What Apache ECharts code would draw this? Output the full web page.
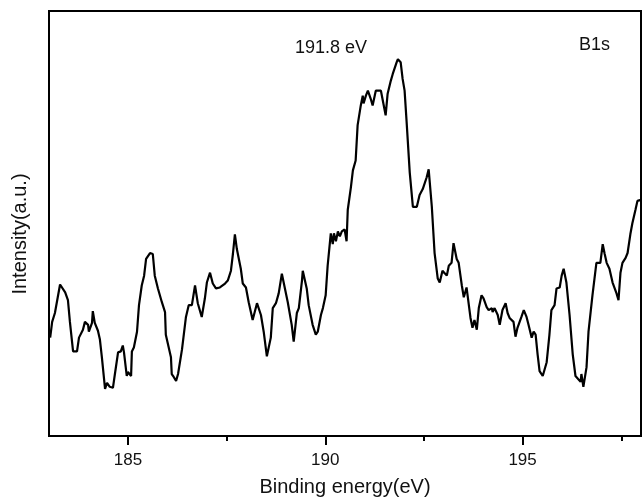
<!DOCTYPE html>
<html>
<head>
<meta charset="utf-8">
<script src="https://cdn.jsdelivr.net/npm/echarts@6/dist/echarts.min.js"></script>
<style>
  html, body { margin: 0; padding: 0; background: #fff; }
  #chart { width: 643px; height: 502px; }
</style>
</head>
<body>
<div id="chart"></div>
<script>
// Binding energy (eV)
var energy = [
  183.03,183.08,183.15,183.28,183.33,183.41,183.48,183.53,183.61,183.71,
  183.76,183.81,183.86,183.91,183.99,184.01,184.09,184.11,184.16,184.24,
  184.29,184.34,184.42,184.47,184.54,184.62,184.67,184.75,184.82,184.87,
  184.90,184.97,185.00,185.08,185.10,185.15,185.23,185.28,185.35,185.41,
  185.46,185.51,185.56,185.63,185.68,185.76,185.86,185.94,185.96,186.01,
  186.09,186.11,186.16,186.22,186.27,186.37,186.47,186.54,186.62,186.70,
  186.77,186.87,186.95,187.00,187.08,187.15,187.23,187.28,187.33,187.46,
  187.53,187.61,187.66,187.71,187.76,187.86,187.91,187.99,188.06,188.16,
  188.27,188.37,188.44,188.52,188.62,188.67,188.75,188.82,188.90,188.95,
  189.05,189.15,189.20,189.28,189.33,189.41,189.43,189.53,189.58,189.63,
  189.68,189.76,189.81,189.89,189.94,190.01,190.06,190.14,190.19,190.22,
  190.27,190.32,190.37,190.42,190.49,190.54,190.57,190.65,190.70,190.77,
  190.82,190.90,190.95,190.97,191.03,191.08,191.15,191.20,191.28,191.33,
  191.41,191.46,191.53,191.58,191.66,191.71,191.76,191.81,191.84,191.91,
  191.96,192.01,192.06,192.14,192.22,192.27,192.32,192.39,192.47,192.57,
  192.62,192.70,192.77,192.85,192.90,192.97,193.08,193.13,193.20,193.25,
  193.33,193.38,193.46,193.51,193.58,193.61,193.68,193.73,193.78,193.84,
  193.89,193.96,194.01,194.09,194.14,194.22,194.24,194.29,194.37,194.42,
  194.49,194.57,194.62,194.67,194.72,194.77,194.82,194.87,194.97,195.03,
  195.10,195.15,195.23,195.28,195.33,195.38,195.43,195.51,195.56,195.61,
  195.68,195.73,195.81,195.86,195.94,195.99,196.04,196.11,196.19,196.27,
  196.34,196.39,196.47,196.49,196.54,196.62,196.67,196.77,196.87,196.97,
  197.03,197.08,197.13,197.20,197.28,197.38,197.43,197.48,197.53,197.61,
  197.66,197.73,197.78,197.86,197.91,198.00
];
// Intensity (a.u.)
var intensity = [
  100,116,125,154,155,146,138,116,86,86,
  100,100,108,116,113,106,115,127,115,107,
  98,80,48,54,50,49,63,85,86,92,
  85,61,65,61,86,90,106,133,153,163,
  180,181,186,185,163,150,136,126,103,101,
  80,63,60,56,63,88,121,133,133,153,
  135,121,140,156,166,155,150,148,151,155,
  158,168,185,205,190,170,155,151,136,118,
  135,123,106,81,100,130,135,145,165,165,
  136,113,96,125,130,158,168,150,133,131,
  113,103,106,123,130,143,173,206,195,206,
  198,208,203,208,210,198,230,253,270,280,
  316,336,346,338,346,351,343,336,351,353,
  351,351,326,348,361,368,368,380,383,380,
  363,351,320,268,233,231,233,245,251,263,
  271,233,186,160,156,168,163,173,176,196,
  180,176,153,141,151,150,120,110,118,108,
  130,143,140,131,128,130,126,130,123,113,
  128,135,125,120,121,116,101,110,121,128,
  121,113,100,106,103,83,66,61,60,75,
  103,128,133,150,151,163,170,156,123,83,
  61,60,55,63,50,70,106,143,176,176,
  195,185,176,170,156,145,138,166,176,181,
  186,205,216,230,239,240
];
var majorTicks = [185, 190, 195];
var minorTicks = [187.5, 192.5, 197.5];
var peakLabel = '191.8 eV';
var specLabel = 'B1s';
var xTitle = 'Binding energy(eV)';
var yTitle = 'Intensity(a.u.)';

var xMin = 183, xMax = 198, yMin = 0, yMax = 432;
var FONT = 'Liberation Sans, Arial, sans-serif';

var seriesData = energy.map(function (e, i) { return [e, intensity[i]]; });

var chart = echarts.init(document.getElementById('chart'), null, { renderer: 'canvas' });
chart.setOption({
  animation: false,
  backgroundColor: '#fff',
  grid: {
    left: 49, right: 2, top: 11, bottom: 59,
    show: true, borderColor: '#000', borderWidth: 2, backgroundColor: 'transparent'
  },
  xAxis: [{
    type: 'value', min: xMin, max: xMax, position: 'bottom',
    name: xTitle, nameLocation: 'middle', nameGap: 41,
    nameTextStyle: { fontFamily: FONT, fontSize: 20, color: '#111' },
    axisLine: { show: true, lineStyle: { color: '#000', width: 2 } },
    axisTick: { show: true, inside: false, length: 9, customValues: majorTicks, lineStyle: { color: '#000', width: 2 } },
    axisLabel: { show: true, customValues: majorTicks, margin: 16, fontFamily: FONT, fontSize: 17, color: '#111' },
    splitLine: { show: false }
  }, {
    type: 'value', min: xMin, max: xMax, position: 'bottom', offset: 0,
    axisLine: { show: false },
    axisTick: { show: true, inside: false, length: 5, customValues: minorTicks, lineStyle: { color: '#000', width: 2 } },
    axisLabel: { show: false },
    splitLine: { show: false }
  }],
  yAxis: {
    type: 'value', min: yMin, max: yMax,
    axisLine: { show: true, lineStyle: { color: '#000', width: 2 } },
    axisTick: { show: false },
    axisLabel: { show: false },
    splitLine: { show: false }
  },
  series: [{
    type: 'line',
    xAxisIndex: 0,
    data: seriesData,
    showSymbol: false,
    symbol: 'none',
    smooth: false,
    lineStyle: { color: '#000', width: 2.2 },
    silent: true
  }],
  graphic: [{
    type: 'text', x: 20, y: 234, rotation: Math.PI / 2,
    style: { text: yTitle, font: '20px ' + FONT, fill: '#111', align: 'center', verticalAlign: 'middle' }
  }, {
    type: 'text', left: 295, top: 39,
    style: { text: peakLabel, font: '18px ' + FONT, fill: '#111' }
  }, {
    type: 'text', left: 579, top: 36,
    style: { text: specLabel, font: '18px ' + FONT, fill: '#111' }
  }]
});
</script>
</body>
</html>
